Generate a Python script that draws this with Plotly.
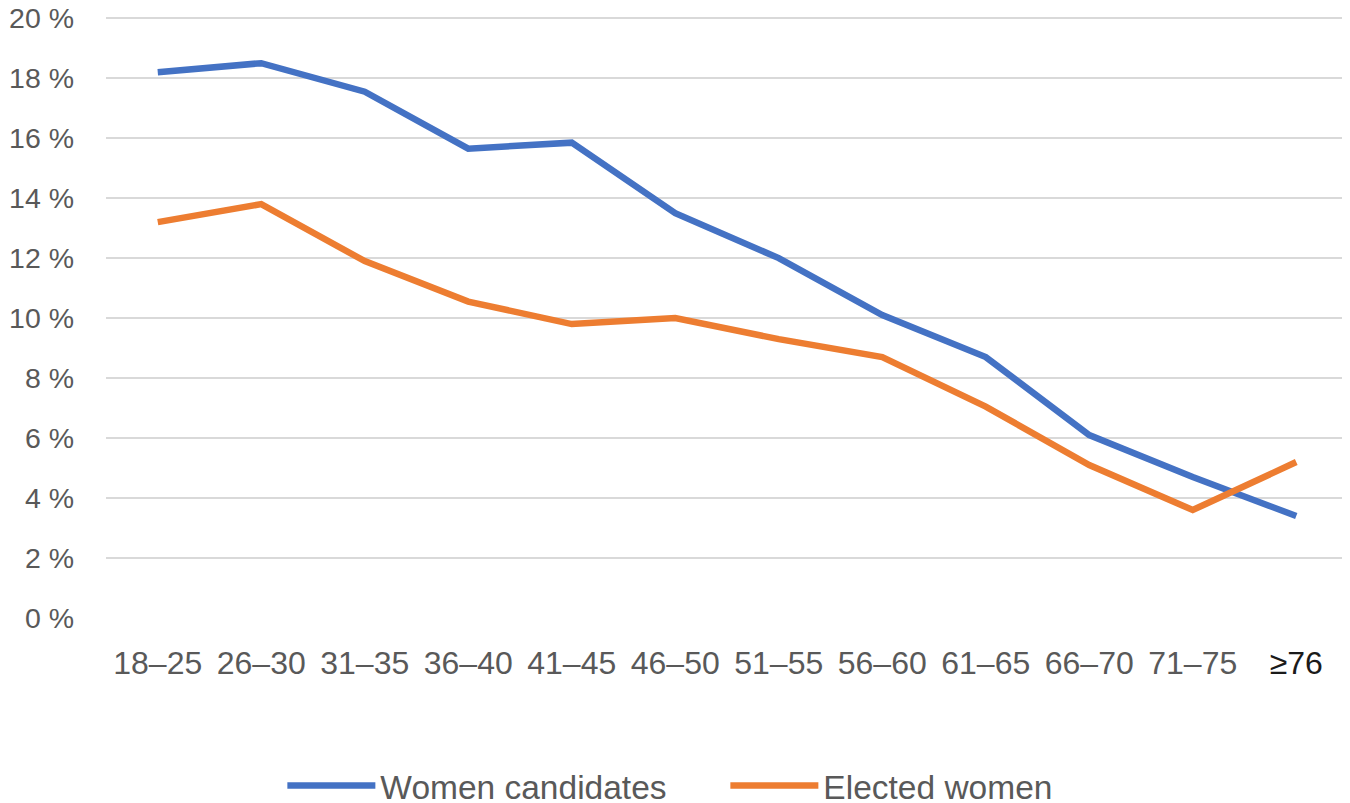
import plotly.graph_objects as go

categories = ["18–25", "26–30", "31–35", "36–40", "41–45", "46–50", "51–55",
              "56–60", "61–65", "66–70", "71–75", "≥76"]
women_candidates = [18.2, 18.5, 17.55, 15.65, 15.85, 13.5, 12.0, 10.1, 8.7, 6.1, 4.7, 3.4]
elected_women = [13.2, 13.8, 11.9, 10.55, 9.8, 10.0, 9.3, 8.7, 7.05, 5.1, 3.6, 5.2]
y_ticks = list(range(0, 21, 2))
y_ticktext = [f"{v} %" for v in y_ticks]

FONT = "Liberation Sans"

fig = go.Figure()
fig.add_trace(go.Scatter(x=categories, y=women_candidates, mode="lines",
                         name="Women candidates",
                         line=dict(color="#4472C4", width=6.5)))
fig.add_trace(go.Scatter(x=categories, y=elected_women, mode="lines",
                         name="Elected women",
                         line=dict(color="#ED7D31", width=6.5)))

x_ticktext = [c if c != "≥76" else "<span style='color:#1a1a1a'>≥76</span>" for c in categories]

fig.update_layout(
    width=1350, height=803,
    paper_bgcolor="white", plot_bgcolor="white",
    margin=dict(l=98, r=10, t=9, b=193, autoexpand=False),
    font=dict(family=FONT, size=32, color="#595959"),
    xaxis=dict(type="category", tickvals=categories, ticktext=x_ticktext,
               range=[-0.5, len(categories) - 0.5],
               showgrid=False, zeroline=False, showline=False, ticks="",
               ticklabelstandoff=23, tickfont=dict(size=32, color="#595959")),
    yaxis=dict(range=[0, 20.04], tickvals=y_ticks, ticktext=y_ticktext,
               showgrid=True, gridcolor="#D9D9D9", gridwidth=2,
               zeroline=False, showline=False, ticks="",
               ticklabeloverflow="allow",
               ticklabelstandoff=31, tickfont=dict(size=28.5, color="#595959")),
    legend=dict(orientation="h", x=0.142, xanchor="left", y=-0.279, yanchor="middle",
                font=dict(size=33.5, color="#595959"), itemwidth=88,
                entrywidth=340, bgcolor="rgba(0,0,0,0)"),
    showlegend=True,
)

fig.write_html("out.html")
